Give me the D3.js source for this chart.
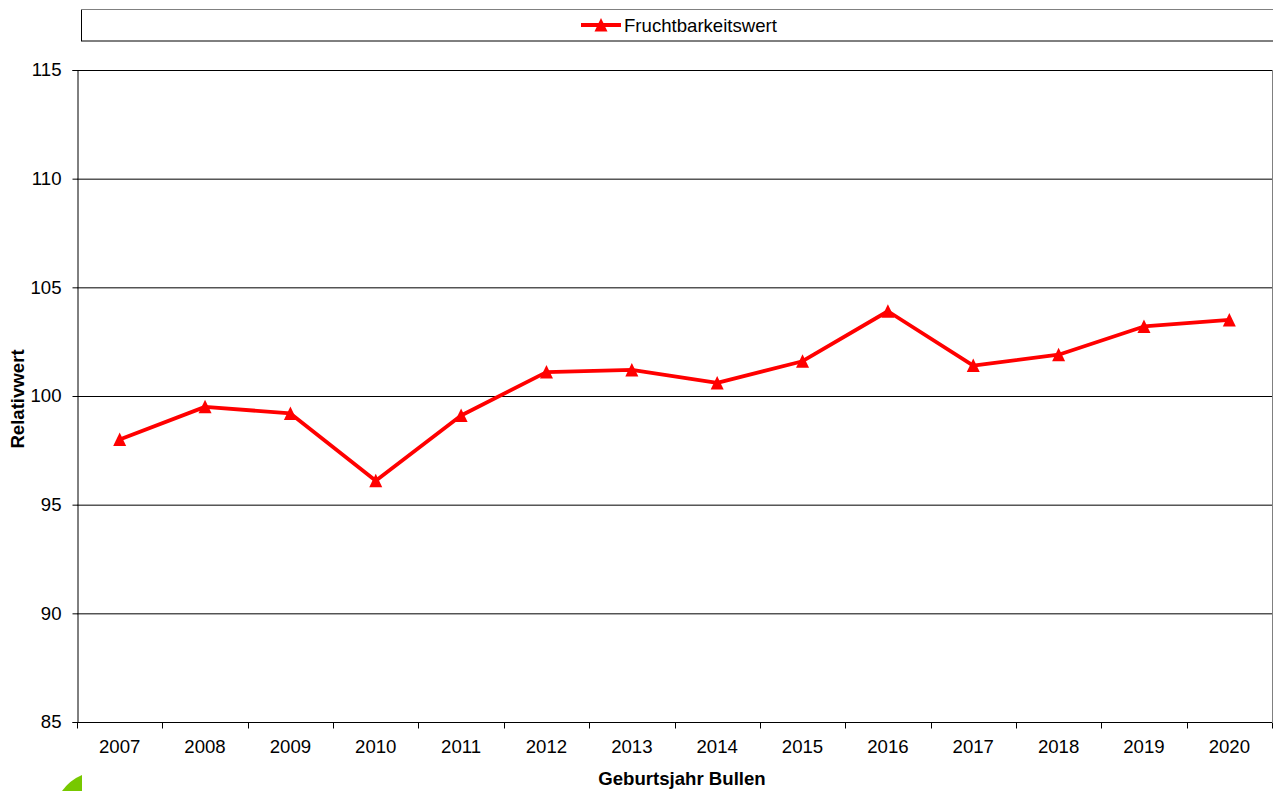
<!DOCTYPE html>
<html><head><meta charset="utf-8">
<script src="https://cdn.jsdelivr.net/npm/d3@7"></script>
<style>body{margin:0;background:#fff;}svg{display:block;font-family:"Liberation Sans",Arial,sans-serif;}</style>
</head><body>
<svg id="c" width="1273" height="791"></svg>
<script>
const years = ["2007","2008","2009","2010","2011","2012","2013","2014","2015","2016","2017","2018","2019","2020"];
const fruchtbarkeit = [98.0,99.5,99.2,96.1,99.1,101.1,101.2,100.6,101.6,103.9,101.4,101.9,103.2,103.5];
const yTicks = [85,90,95,100,105,110,115];
const seriesName = "Fruchtbarkeitswert";

const FS = 18.6;
const svg = d3.select("#c");
const L=77, R=1272, T=70, B=722;
const x = d3.scaleBand().domain(years).range([L,R]);
const y = d3.scaleLinear().domain([85,115]).range([B,T]);

// gridlines
svg.append("g").selectAll("line").data(yTicks.filter(d=>d>85&&d<115)).join("line")
  .attr("x1",L).attr("x2",R).attr("y1",d=>y(d)+0.5).attr("y2",d=>y(d)+0.5)
  .attr("stroke","#000").attr("stroke-width",1);
// plot border top/right
svg.append("line").attr("x1",L).attr("x2",R).attr("y1",T+0.5).attr("y2",T+0.5).attr("stroke","#000");
svg.append("line").attr("x1",R+0.5).attr("x2",R+0.5).attr("y1",T).attr("y2",B).attr("stroke","#808080");

// y axis
const ya = svg.append("g").attr("transform",`translate(${L+0.5},0)`)
  .call(d3.axisLeft(y).tickValues(yTicks).tickSize(5).tickPadding(11));
ya.select(".domain").attr("stroke","#000");
ya.selectAll("line").attr("stroke","#000");
ya.selectAll("text").attr("font-size",FS).attr("fill","#000").attr("font-family","Liberation Sans, Arial, sans-serif");

// x axis
const xa = svg.append("g").attr("transform",`translate(0,${B+0.5})`);
xa.append("line").attr("x1",L).attr("x2",R).attr("stroke","#000");
xa.selectAll("line.t").data(years.concat(["end"])).join("line").attr("class","t")
  .attr("x1",(d,i)=>Math.round(L+i*x.bandwidth())+0.5).attr("x2",(d,i)=>Math.round(L+i*x.bandwidth())+0.5)
  .attr("y1",0).attr("y2",6).attr("stroke","#000");
xa.selectAll("text").data(years).join("text")
  .attr("x",d=>x(d)+x.bandwidth()/2).attr("y",30).attr("text-anchor","middle")
  .attr("font-size",FS).text(d=>d);

// axis titles
svg.append("text").attr("x",682).attr("y",785).attr("text-anchor","middle")
  .attr("font-size",FS).attr("font-weight","bold").text("Geburtsjahr Bullen");
svg.append("text").attr("transform",`translate(24,399) rotate(-90)`).attr("text-anchor","middle")
  .attr("font-size",FS).attr("font-weight","bold").text("Relativwert");

// line
const cx = d=>x(d)+x.bandwidth()/2;
svg.append("path").datum(fruchtbarkeit)
  .attr("d",d3.line().x((d,i)=>cx(years[i])).y(d=>y(d)))
  .attr("fill","none").attr("stroke","#ff0000").attr("stroke-width",3.8).attr("stroke-linejoin","round");
const tri = "M0,-7L6.5,6.5L-6.5,6.5Z";
svg.append("g").selectAll("path").data(fruchtbarkeit).join("path")
  .attr("transform",(d,i)=>`translate(${cx(years[i])},${y(d)})`)
  .attr("d",tri).attr("fill","#ff0000");

// legend
svg.append("rect").attr("x",81.5).attr("y",9.5).attr("width",1300).attr("height",31.5)
  .attr("fill","#fff").attr("stroke","#000");
svg.append("line").attr("x1",81).attr("x2",1273).attr("y1",9.5).attr("y2",9.5).attr("stroke","#808080");
svg.append("line").attr("x1",581).attr("x2",621).attr("y1",25).attr("y2",25).attr("stroke","#ff0000").attr("stroke-width",3.8);
svg.append("path").attr("transform","translate(601,25)").attr("d",tri).attr("fill","#ff0000");
svg.append("text").attr("x",624).attr("y",31.5).attr("font-size",FS).text(seriesName);

// green corner shape
svg.append("path").attr("d","M82,775 L82,791 L62,791 Q70,780 82,775 Z").attr("fill","#77c800");
</script>
</body></html>
